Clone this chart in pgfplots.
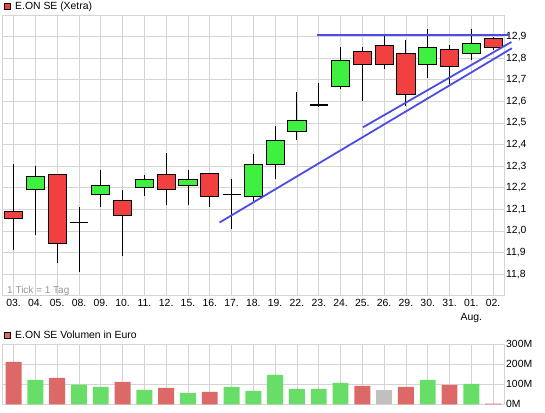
\documentclass[border=0pt]{standalone}
\usepackage{fontspec}
\setmainfont{Liberation Sans}
\usepackage{pgfplots}
\pgfplotsset{compat=1.18}
\definecolor{cred}{RGB}{240,64,64}
\definecolor{cgreen}{RGB}{64,240,64}
\definecolor{vred}{RGB}{221,104,104}
\definecolor{vgreen}{RGB}{104,221,104}
\definecolor{vgray}{RGB}{192,192,192}
\definecolor{gridc}{RGB}{212,212,212}
\definecolor{tline}{RGB}{76,76,226}
\definecolor{notec}{RGB}{150,150,150}
\newcommand\lf{\fontsize{10.4bp}{13.5bp}\selectfont}
\pgfplotsset{body/.style={draw=black, line width=0.9bp, fill=#1}}
\begin{document}
\begin{tikzpicture}
\path[use as bounding box] (0,0) rectangle (545bp,413bp);
\begin{axis}[
  at={(2.7bp,117.3bp)}, anchor=south west, scale only axis,
  width=501.3bp, height=280.7bp,
  xmin=-0.5, xmax=22.5, ymin=11.7, ymax=13.0,
  xtick={0,...,22},
  xticklabels={03.,04.,05.,08.,09.,10.,11.,12.,15.,16.,17.,18.,19.,22.,23.,24.,25.,26.,29.,30.,31.,{01.\\Aug.},02.},
  ytick={11.8,11.9,12,12.1,12.2,12.3,12.4,12.5,12.6,12.7,12.8,12.9},
  yticklabel pos=right,
  grid=major, major grid style={draw=gridc, line width=0.8bp},
  axis line style={draw=gridc, line width=0.8bp},
  major tick length=0pt,
  tick label style={font=\lf},
  xticklabel style={anchor=north, inner sep=0pt, yshift=-3.5bp, align=center},
  yticklabel style={anchor=west, inner sep=0pt, xshift=2bp},
  /pgf/number format/fixed, /pgf/number format/fixed zerofill,
  /pgf/number format/precision=1, /pgf/number format/use comma,
  /pgf/number format/assume math mode=true,
  clip=false,
]
% wicks: low and high of each day
\addplot[black, line width=0.9bp, unbounded coords=jump] coordinates {
 (0,11.91) (0,12.31) (0,nan)
 (1,11.98) (1,12.30) (1,nan)
 (2,11.85) (2,12.26) (2,nan)
 (3,11.81) (3,12.11) (3,nan)
 (4,12.11) (4,12.28) (4,nan)
 (5,11.885) (5,12.19) (5,nan)
 (6,12.16) (6,12.26) (6,nan)
 (7,12.12) (7,12.36) (7,nan)
 (8,12.12) (8,12.28) (8,nan)
 (9,12.11) (9,12.265) (9,nan)
 (10,12.01) (10,12.24) (10,nan)
 (11,12.14) (11,12.355) (11,nan)
 (12,12.24) (12,12.485) (12,nan)
 (13,12.42) (13,12.645) (13,nan)
 (14,12.575) (14,12.685) (14,nan)
 (15,12.655) (15,12.85) (15,nan)
 (16,12.60) (16,12.85) (16,nan)
 (17,12.75) (17,12.91) (17,nan)
 (18,12.58) (18,12.885) (18,nan)
 (19,12.71) (19,12.935) (19,nan)
 (20,12.68) (20,12.86) (20,nan)
 (21,12.79) (21,12.935) (21,nan)
 (22,12.84) (22,12.90)
};
% bodies: open/close
\addplot[body=cred] coordinates {(-0.415,12.06) (0.415,12.06) (0.415,12.09) (-0.415,12.09)} -- cycle;
\addplot[body=cgreen] coordinates {(0.585,12.19) (1.415,12.19) (1.415,12.25) (0.585,12.25)} -- cycle;
\addplot[body=cred] coordinates {(1.585,11.94) (2.415,11.94) (2.415,12.26) (1.585,12.26)} -- cycle;
\addplot[body=black, line width=1.3bp] coordinates {(2.585,12.04) (3.415,12.04)};
\addplot[body=cgreen] coordinates {(3.585,12.17) (4.415,12.17) (4.415,12.21) (3.585,12.21)} -- cycle;
\addplot[body=cred] coordinates {(4.585,12.07) (5.415,12.07) (5.415,12.14) (4.585,12.14)} -- cycle;
\addplot[body=cgreen] coordinates {(5.585,12.20) (6.415,12.20) (6.415,12.24) (5.585,12.24)} -- cycle;
\addplot[body=cred] coordinates {(6.585,12.19) (7.415,12.19) (7.415,12.26) (6.585,12.26)} -- cycle;
\addplot[body=cgreen] coordinates {(7.585,12.21) (8.415,12.21) (8.415,12.24) (7.585,12.24)} -- cycle;
\addplot[body=cred] coordinates {(8.585,12.16) (9.415,12.16) (9.415,12.265) (8.585,12.265)} -- cycle;
\addplot[body=black, line width=1.3bp] coordinates {(9.585,12.17) (10.415,12.17)};
\addplot[body=cgreen] coordinates {(10.585,12.16) (11.415,12.16) (11.415,12.31) (10.585,12.31)} -- cycle;
\addplot[body=cgreen] coordinates {(11.585,12.31) (12.415,12.31) (12.415,12.42) (11.585,12.42)} -- cycle;
\addplot[body=cgreen] coordinates {(12.585,12.46) (13.415,12.46) (13.415,12.51) (12.585,12.51)} -- cycle;
\addplot[body=black, line width=1.3bp] coordinates {(13.585,12.583) (14.415,12.583)};
\addplot[body=cgreen] coordinates {(14.585,12.67) (15.415,12.67) (15.415,12.79) (14.585,12.79)} -- cycle;
\addplot[body=cred] coordinates {(15.585,12.77) (16.415,12.77) (16.415,12.83) (15.585,12.83)} -- cycle;
\addplot[body=cred] coordinates {(16.585,12.77) (17.415,12.77) (17.415,12.86) (16.585,12.86)} -- cycle;
\addplot[body=cred] coordinates {(17.585,12.63) (18.415,12.63) (18.415,12.82) (17.585,12.82)} -- cycle;
\addplot[body=cgreen] coordinates {(18.585,12.77) (19.415,12.77) (19.415,12.85) (18.585,12.85)} -- cycle;
\addplot[body=cred] coordinates {(19.585,12.76) (20.415,12.76) (20.415,12.84) (19.585,12.84)} -- cycle;
\addplot[body=cgreen] coordinates {(20.585,12.82) (21.415,12.82) (21.415,12.87) (20.585,12.87)} -- cycle;
\addplot[body=cred] coordinates {(21.585,12.85) (22.415,12.85) (22.415,12.89) (21.585,12.89)} -- cycle;
% trend lines
\addplot[tline, line width=1.8bp] coordinates {(13.92,12.906) (22.75,12.906)};
\addplot[tline, line width=1.8bp] coordinates {(16.03,12.48) (22.84,12.875)};
\addplot[tline, line width=1.8bp] coordinates {(9.45,12.039) (22.86,12.846)};
\end{axis}
\begin{axis}[
  at={(2.7bp,8.7bp)}, anchor=south west, scale only axis,
  width=501.3bp, height=60bp,
  xmin=-0.5, xmax=22.5, ymin=0, ymax=300,
  xtick={0,...,22}, xticklabel=\empty,
  ytick={0,100,200,300}, yticklabels={0M,100M,200M,300M},
  yticklabel pos=right,
  grid=major, major grid style={draw=gridc, line width=0.8bp},
  axis line style={draw=gridc, line width=0.8bp},
  major tick length=0pt,
  tick label style={font=\lf},
  yticklabel style={anchor=west, inner sep=0pt, xshift=2bp},
]
\addplot[ybar, bar width=0.73, bar shift=0pt, fill=vred, draw=none] coordinates
  {(0,212) (2,132) (5,112) (7,82) (9,62) (16,92) (18,87) (20,97) (22,4)};
\addplot[ybar, bar width=0.73, bar shift=0pt, fill=vgreen, draw=none] coordinates
  {(1,122) (3,98) (4,87) (6,72) (8,57) (10,87) (11,67) (12,147) (13,77) (14,77) (15,107) (19,122) (21,102)};
\addplot[ybar, bar width=0.73, bar shift=0pt, fill=vgray, draw=none] coordinates
  {(17,72)};
\end{axis}
% titles
\filldraw[fill=cred, draw=black, line width=0.8bp] (4bp,404bp) rectangle (10bp,410bp);
\node[anchor=base west, inner sep=0pt, font=\lf] at (15bp,403bp) {E.ON SE (Xetra)};
\node[anchor=west, inner sep=0pt, font=\fontsize{10bp}{12bp}\selectfont, text=notec] at (7bp,122.3bp) {1 Tick = 1 Tag};
\filldraw[fill=vred, draw=black, line width=0.8bp] (4bp,74.7bp) rectangle (10bp,80.7bp);
\node[anchor=base west, inner sep=0pt, font=\lf] at (15bp,74bp) {E.ON SE Volumen in Euro};
\end{tikzpicture}
\end{document}
